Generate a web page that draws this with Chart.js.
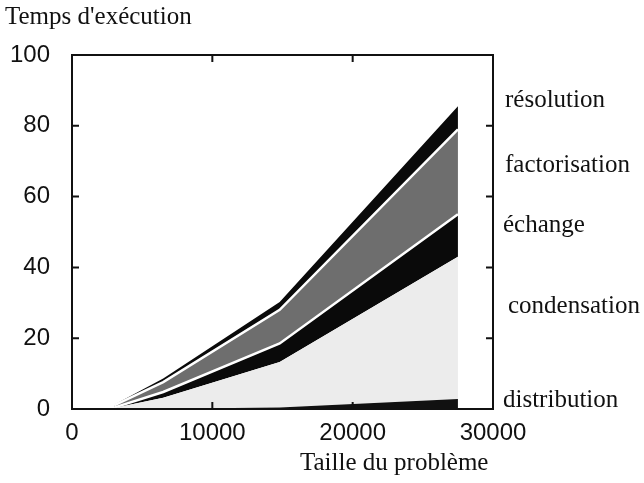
<!DOCTYPE html>
<html>
<head>
<meta charset="utf-8">
<script src="https://cdn.jsdelivr.net/npm/chart.js@4/dist/chart.umd.min.js"></script>
<style>
  html, body { margin: 0; padding: 0; background: #fff; }
  #wrap { width: 644px; height: 483px; }
</style>
</head>
<body>
<div id="wrap"><canvas id="chart" width="644" height="483"></canvas></div>
<script>
// Taille du problème (x) et temps par phase (empilés, de bas en haut)
const tailles = [3000, 6500, 14800, 27500];
const distribution = [0, 0.1, 0.4, 2.8];
const condensation = [0.3, 3.1, 12.9, 40.2];
const echange = [0.1, 1.6, 5.2, 12];
const factorisation = [0.6, 2.8, 9.5, 24];
const resolution = [0.2, 1.0, 2.2, 6.5];

const xTicks = [0, 10000, 20000, 30000];
const yTicks = [0, 20, 40, 60, 80, 100];

// libellés à droite du graphique
const phaseLabels = [
    { text: 'résolution', x: 505, y: 107 },
    { text: 'factorisation', x: 505, y: 172 },
    { text: 'échange', x: 503, y: 232 },
    { text: 'condensation', x: 508, y: 313 },
    { text: 'distribution', x: 503, y: 407 }
];

const serif = '"Liberation Serif", "Times New Roman", serif';
const sans = '"Liberation Sans", Arial, sans-serif';

function points(vals) {
    return tailles.map((t, i) => ({ x: t, y: vals[i] }));
}

// Cadre, petites graduations internes et textes
const cadrePlugin = {
    id: 'cadre',
    afterDatasetsDraw(chart) {
        const ctx = chart.ctx;
        const a = chart.chartArea;
        const xs = chart.scales.x, ys = chart.scales.y;
        ctx.save();
        ctx.strokeStyle = '#111';
        ctx.lineWidth = 2;
        ctx.strokeRect(a.left, a.top, a.right - a.left, a.bottom - a.top);
        const len = 7;
        ctx.beginPath();
        xTicks.forEach(v => {
            const px = xs.getPixelForValue(v);
            ctx.moveTo(px, a.bottom); ctx.lineTo(px, a.bottom - len);
            ctx.moveTo(px, a.top); ctx.lineTo(px, a.top + len);
        });
        yTicks.forEach(v => {
            const py = ys.getPixelForValue(v);
            ctx.moveTo(a.left, py); ctx.lineTo(a.left + len, py);
            ctx.moveTo(a.right, py); ctx.lineTo(a.right - len, py);
        });
        ctx.stroke();

        ctx.fillStyle = '#111';
        ctx.font = '25px ' + serif;
        ctx.textAlign = 'left';
        ctx.textBaseline = 'alphabetic';
        ctx.fillText("Temps d'exécution", 5, 24);
        ctx.fillText('Taille du problème', 300, 470);
        phaseLabels.forEach(l => ctx.fillText(l.text, l.x, l.y));
        ctx.restore();
    }
};

new Chart(document.getElementById('chart').getContext('2d'), {
    type: 'line',
    data: {
        datasets: [
            {
                label: 'distribution',
                data: points(distribution),
                backgroundColor: '#111',
                borderWidth: 0,
                fill: 'origin'
            },
            {
                label: 'condensation',
                data: points(condensation),
                backgroundColor: '#ececec',
                borderWidth: 0,
                fill: '-1'
            },
            {
                label: 'échange',
                data: points(echange),
                backgroundColor: '#0a0a0a',
                borderColor: '#ffffff',
                borderWidth: 2.5,
                fill: '-1'
            },
            {
                label: 'factorisation',
                data: points(factorisation),
                backgroundColor: '#6e6e6e',
                borderColor: '#ffffff',
                borderWidth: 2.5,
                fill: '-1'
            },
            {
                label: 'résolution',
                data: points(resolution),
                backgroundColor: '#0a0a0a',
                borderWidth: 0,
                fill: '-1'
            }
        ]
    },
    options: {
        responsive: false,
        animation: false,
        layout: { padding: { left: 0, top: 55, right: 151, bottom: 34 } },
        elements: { point: { radius: 0 }, line: { tension: 0 } },
        plugins: {
            legend: { display: false },
            tooltip: { enabled: false },
            filler: { propagate: false }
        },
        scales: {
            x: {
                type: 'linear',
                min: 0,
                max: 30000,
                grid: { display: false, drawTicks: false },
                border: { display: false },
                afterBuildTicks(scale) { scale.ticks = xTicks.map(v => ({ value: v })); },
                afterFit(scale) { scale.height = 40; },
                ticks: {
                    color: '#111',
                    padding: 10,
                    maxRotation: 0,
                    font: { family: sans, size: 24 },
                    callback: v => String(v)
                }
            },
            y: {
                stacked: true,
                min: 0,
                max: 100,
                grid: { display: false, drawTicks: false },
                border: { display: false },
                afterBuildTicks(scale) { scale.ticks = yTicks.map(v => ({ value: v })); },
                afterFit(scale) { scale.width = 72; },
                ticks: {
                    color: '#111',
                    padding: 22,
                    font: { family: sans, size: 24 },
                    callback: v => String(v)
                }
            }
        }
    },
    plugins: [cadrePlugin]
});
</script>
</body>
</html>
